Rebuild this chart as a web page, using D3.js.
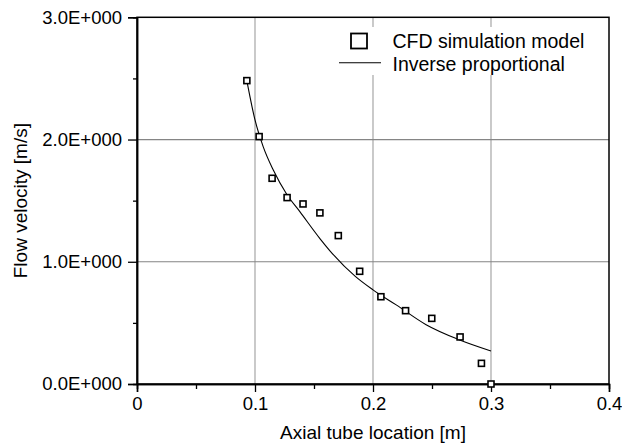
<!DOCTYPE html>
<html>
<head>
<meta charset="utf-8">
<script src="https://cdn.jsdelivr.net/npm/d3@7"></script>
<style>
  html, body { margin: 0; padding: 0; background: #fff; }
  svg { display: block; font-family: "Liberation Sans", Arial, sans-serif; }
</style>
</head>
<body>
<svg id="chart" width="622" height="445"></svg>
<script>
// ---- data ----
const cfdX = [0.0931, 0.1035, 0.1145, 0.1272, 0.1407, 0.155, 0.1706, 0.1887, 0.2067, 0.2276, 0.2498, 0.2738, 0.2919, 0.300];
const cfdY = [2.482, 2.024, 1.683, 1.525, 1.473, 1.40, 1.214, 0.922, 0.714, 0.600, 0.537, 0.385, 0.169, 0.0];
const invX = [0.0935, 0.1, 0.107, 0.1155, 0.127, 0.138, 0.155, 0.1635, 0.185, 0.2, 0.22, 0.245, 0.2735, 0.3];
const invY = [2.46, 2.16, 1.94, 1.75, 1.55, 1.41, 1.19, 1.09, 0.88, 0.77, 0.645, 0.485, 0.36, 0.27];
const xTicks = [0, 0.1, 0.2, 0.3, 0.4];
const xTickLabels = ["0", "0.1", "0.2", "0.3", "0.4"];
const xMinorTicks = [0.05, 0.15, 0.25, 0.35];
const yTicks = [0, 1, 2, 3];
const yTickLabels = ["0.0E+000", "1.0E+000", "2.0E+000", "3.0E+000"];
const yMinorTicks = [0.5, 1.5, 2.5];
const seriesNames = ["CFD simulation model", "Inverse proportional"];
const xTitle = "Axial tube location [m]";
const yTitle = "Flow velocity [m/s]";

// ---- layout ----
const L = 137, R = 609, T = 17.3, B = 384;
const svg = d3.select("#chart");
const x = d3.scaleLinear().domain([0, 0.4]).range([L, R]);
const y = d3.scaleLinear().domain([0, 3]).range([B, T]);

// gridlines
svg.append("g").selectAll("line").data(xTicks.filter(v => v > 0 && v < 0.4)).join("line")
  .attr("x1", d => x(d)).attr("x2", d => x(d)).attr("y1", T).attr("y2", B)
  .attr("stroke", "#a6a6a6").attr("stroke-width", 1.2);
svg.append("g").selectAll("line").data(yTicks.filter(v => v > 0 && v < 3)).join("line")
  .attr("x1", L).attr("x2", R).attr("y1", d => y(d)).attr("y2", d => y(d))
  .attr("stroke", "#858585").attr("stroke-width", 1.2);

// legend background
svg.append("rect").attr("x", 334).attr("y", 27).attr("width", R - 334 - 1).attr("height", 48).attr("fill", "#fff");

// frame
svg.append("rect").attr("x", L).attr("y", T).attr("width", R - L).attr("height", B - T)
  .attr("fill", "none").attr("stroke", "#000").attr("stroke-width", 1.5);

// axes
const fontSize = "18.5px";
const xAxis = svg.append("g").attr("transform", `translate(0,${B})`)
  .call(d3.axisBottom(x).tickValues(xTicks).tickSize(8).tickPadding(5)
    .tickFormat((d, i) => xTickLabels[i]));
const xMinor = svg.append("g").attr("transform", `translate(0,${B})`)
  .call(d3.axisBottom(x).tickValues(xMinorTicks).tickSize(5).tickFormat(""));
const yAxis = svg.append("g").attr("transform", `translate(${L},0)`)
  .call(d3.axisLeft(y).tickValues(yTicks).tickSize(9).tickPadding(6)
    .tickFormat((d, i) => yTickLabels[i]));
const yMinor = svg.append("g").attr("transform", `translate(${L},0)`)
  .call(d3.axisLeft(y).tickValues(yMinorTicks).tickSize(4).tickFormat(""));
[xAxis, xMinor, yAxis, yMinor].forEach(g => {
  g.select(".domain").attr("stroke", "#000").attr("stroke-width", 1.5);
  g.selectAll(".tick line").attr("stroke", "#000").attr("stroke-width", 1.3);
  g.selectAll("text").attr("font-size", fontSize).attr("fill", "#000")
    .attr("font-family", "'Liberation Sans', Arial, sans-serif");
});

// titles
svg.append("text").attr("x", (L + R) / 2).attr("y", 439).attr("text-anchor", "middle")
  .attr("font-size", "19px").text(xTitle);
svg.append("text").attr("transform", `translate(27,${(T + B) / 2}) rotate(-90)`)
  .attr("text-anchor", "middle").attr("font-size", "19px").text(yTitle);

// inverse proportional line
const invData = invX.map((v, i) => [v, invY[i]]);
svg.append("path").datum(invData)
  .attr("d", d3.line().x(d => x(d[0])).y(d => y(d[1])).curve(d3.curveMonotoneX))
  .attr("fill", "none").attr("stroke", "#000").attr("stroke-width", 1.1);

// CFD markers
const cfdData = cfdX.map((v, i) => [v, cfdY[i]]);
svg.append("g").selectAll("rect").data(cfdData).join("rect")
  .attr("x", d => x(d[0]) - 3).attr("y", d => y(d[1]) - 3)
  .attr("width", 6).attr("height", 6)
  .attr("fill", "#fff").attr("stroke", "#000").attr("stroke-width", 1.6);

// legend
svg.append("rect").attr("x", 351).attr("y", 33.5).attr("width", 16).attr("height", 15)
  .attr("fill", "#fff").attr("stroke", "#000").attr("stroke-width", 1.8);
svg.append("text").attr("x", 392.5).attr("y", 47.5).attr("font-size", "19.5px").text(seriesNames[0]);
svg.append("line").attr("x1", 339).attr("x2", 381).attr("y1", 62.7).attr("y2", 62.7)
  .attr("stroke", "#000").attr("stroke-width", 1.1);
svg.append("text").attr("x", 392.5).attr("y", 70.7).attr("font-size", "19.5px").text(seriesNames[1]);
</script>
</body>
</html>
